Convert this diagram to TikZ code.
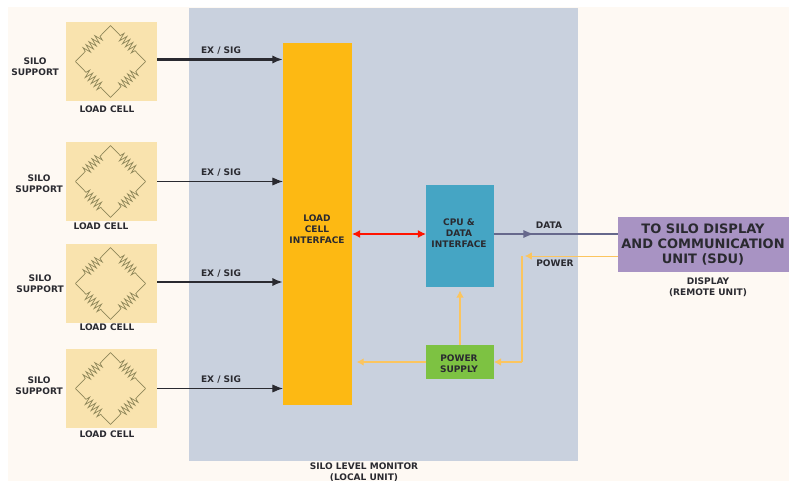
\documentclass[tikz,border=0pt]{standalone}
\usepackage{fontspec}
\setmainfont{DejaVu Sans}
\usetikzlibrary{arrows.meta,decorations.pathmorphing}
\definecolor{cream}{HTML}{FEF9F3}
\definecolor{monitorblue}{HTML}{C9D1DE}
\definecolor{cellyellow}{HTML}{F9E3AE}
\definecolor{bridgeline}{HTML}{8F8759}
\definecolor{ifaceorange}{HTML}{FDB913}
\definecolor{cpublue}{HTML}{45A5C4}
\definecolor{supplygreen}{HTML}{7DC242}
\definecolor{sdupurple}{HTML}{A893C3}
\definecolor{powerline}{HTML}{FBC55F}
\definecolor{dataline}{HTML}{66688C}
\definecolor{inkdark}{HTML}{2A2A30}
\tikzset{
  block/.style={inner sep=0pt, outer sep=0pt},
  cellbox/.style={block, fill=cellyellow, minimum width=2.73cm, minimum height=2.37cm},
  lbl/.style={inner sep=0pt, align=center, text=inkdark, font=\fontsize{7.7}{9.2}\selectfont\bfseries},
  siglink/.style={draw=inkdark, -{Latex[length=9pt,width=7pt]}},
  powerlink/.style={draw=powerline, line width=1pt, -{Latex[length=6pt,width=6.5pt]}},
  pics/bridge/.style={code={
    \coordinate (t) at (-1,-36);
    \coordinate (r) at (34,0);
    \coordinate (b) at (-1,36);
    \coordinate (l) at (-36,0);
    \foreach \p/\q in {t/r,r/b,b/l,l/t}{
      \draw[bridgeline, line width=0.6pt, decoration={zigzag,segment length=3.6pt,amplitude=3.6pt,pre length=12pt,post length=12pt}, decorate] (\p) -- (\q);
    }
  }}
}
\begin{document}
\begin{tikzpicture}[x=0.03cm, y=-0.03cm]
    \useasboundingbox (0,0) rectangle (789,481);

    % Page and local unit backgrounds
    \fill[cream] (8,7) rectangle (789,481);
    \fill[monitorblue] (189,8) rectangle (578,461);

    % Main blocks
    \node[block, fill=ifaceorange, minimum width=2.07cm, minimum height=10.86cm] (iface) at (317.5,224) {};
    \node[block, fill=cpublue, minimum width=2.04cm, minimum height=3.06cm] (cpu) at (460,236) {};
    \node[block, fill=supplygreen, minimum width=2.04cm, minimum height=1.02cm] (supply) at (460,362) {};
    \node[block, fill=sdupurple, minimum width=5.13cm, minimum height=1.65cm] (sdu) at (703.5,244.5) {};

    % Load cells with their signal lines
    \foreach \name/\yc/\sx/\sy/\lx/\ly/\ay/\lw in {
      cellA/61.5/35/67/107/109/59.5/1.8pt,
      cellB/181.5/39/184/101/226/181.5/0.9pt,
      cellC/283.5/40/284/107/327/282/1.8pt,
      cellD/388.5/39/386/107/434/388.5/0.9pt}{
      \node[cellbox] (\name) at (111.5,\yc) {};
      \pic at (\name) {bridge};
      \node[lbl] (\name support) at (\sx,\sy) {SILO\\SUPPORT};
      \node[lbl] (\name title) at (\lx,\ly) {LOAD CELL};
      \coordinate (\name out) at (157,\ay);
      \draw[siglink, line width=\lw] (\name out) -- (\name out -| iface.west);
      \node[lbl] (\name sig) at (221,\ay-8.5) {EX / SIG};
    }

    % Links around the processor
    \coordinate (datatap) at (494,234);
    \coordinate (datamid) at (534,234);
    \coordinate (sdudata) at (618,234);
    \coordinate (sdupower) at (618,256);
    \coordinate (powerturn) at (522,256);

    \draw[red!85!orange, line width=1.3pt, {Latex[length=7pt,width=7pt]}-{Latex[length=7pt,width=7pt]}] (iface.east |- datatap) -- (cpu.west |- datatap);
    \draw[dataline, line width=1.5pt] (datatap) -- (sdudata);
    \draw[dataline, line width=1.5pt, -{Latex[length=9pt,width=7pt]}] (datatap) -- (datamid);
    \draw[powerlink, line width=0.7pt, shorten >=2.5pt] (sdupower) -- (powerturn);
    \draw[powerlink, -] (powerturn) -- (powerturn |- supply.east);
    \draw[powerlink] (powerturn |- supply.east) -- (supply.east);
    \draw[powerlink, shorten >=3pt] (supply.north) -- (cpu.south);
    \draw[powerlink, shorten >=4pt] (supply.west) -- (supply.west -| iface.east);

    % Text
    \node[lbl] (ifacetext) at (317,229) {LOAD\\CELL\\INTERFACE};
    \node[lbl] (cputext) at (459,233) {CPU \&\\DATA\\INTERFACE};
    \node[lbl] (supplytext) at (459,364) {POWER\\SUPPLY};
    \node[lbl] (datatext) at (549,225.5) {DATA};
    \node[lbl] (powertext) at (555,263) {POWER};
    \node[lbl, font=\fontsize{11.1}{12.8}\selectfont\bfseries] (sdutext) at (703,245) {TO SILO DISPLAY\\AND COMMUNICATION\\UNIT (SDU)};
    \node[lbl] (displaytext) at (708,287) {DISPLAY\\(REMOTE UNIT)};
    \node[lbl] (monitortext) at (364,472) {SILO LEVEL MONITOR\\(LOCAL UNIT)};
\end{tikzpicture}
\end{document}
